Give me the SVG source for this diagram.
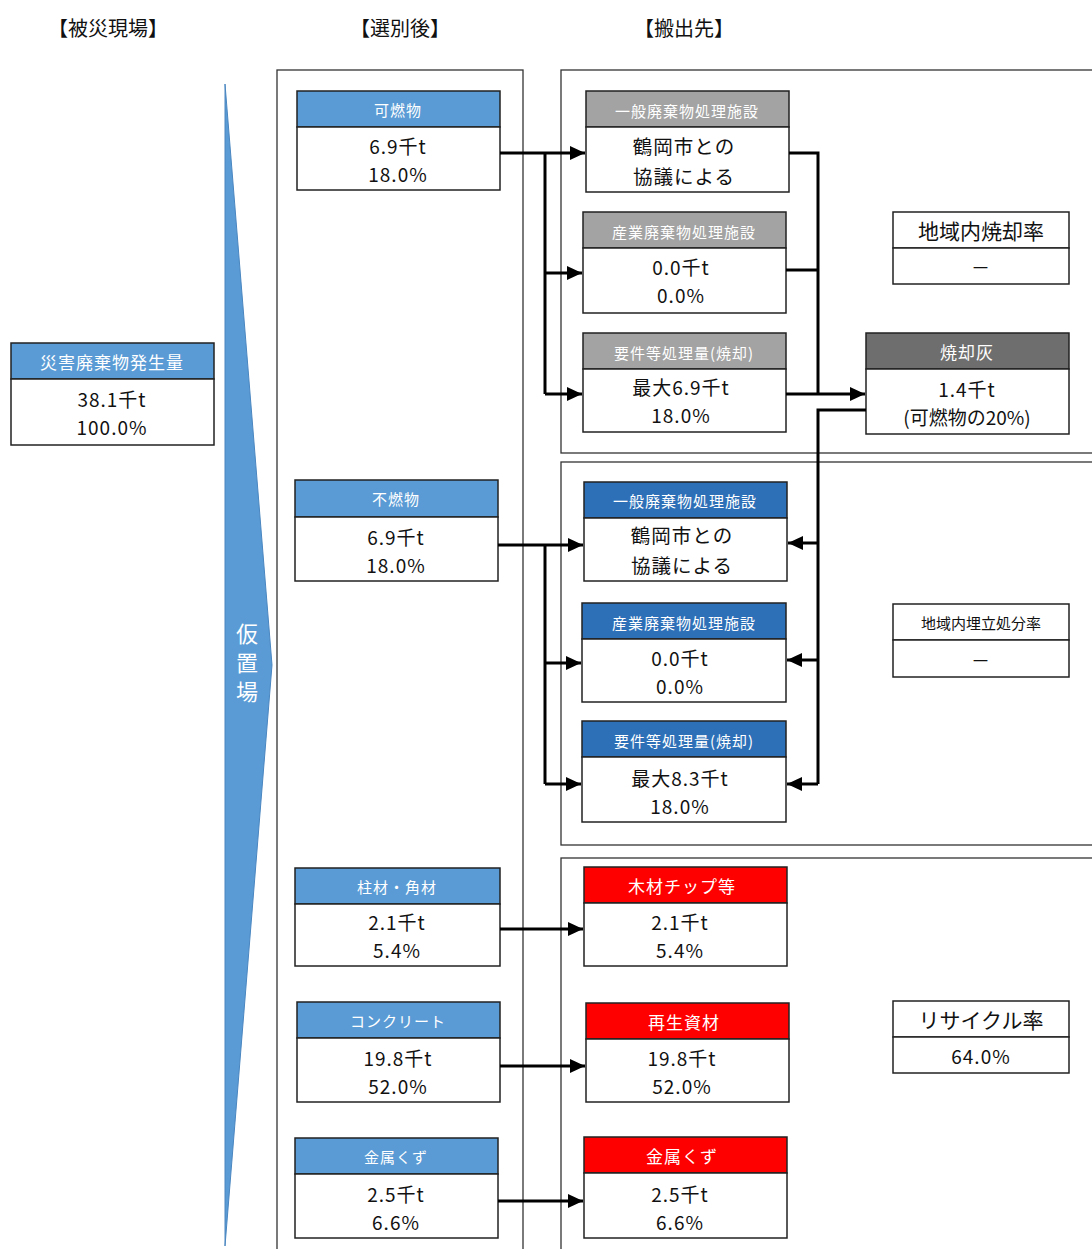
<svg xmlns="http://www.w3.org/2000/svg" width="1092" height="1249" viewBox="0 0 1092 1249">
<style>
text{font-family:"Noto Sans CJK JP","Noto Sans CJK SC",sans-serif;text-anchor:middle;dominant-baseline:central}
.ttl{font-size:20px;fill:#111}
.hd{font-size:15px;fill:#fff;letter-spacing:1px}
.bd{font-size:19px;fill:#111;letter-spacing:1px}
.bd2{font-size:19.5px;fill:#111;letter-spacing:1px}
.box{fill:#fff;stroke:#222;stroke-width:1.5}
.hb{fill:#5a9bd5;stroke:#222;stroke-width:1.5}
.hb2{fill:#2e70b8;stroke:#222;stroke-width:1.5}
.hg{fill:#a3a3a3;stroke:#222;stroke-width:1.5}
.hdg{fill:#6e6e6e;stroke:#222;stroke-width:1.5}
.hr{fill:#ff0000;stroke:#222;stroke-width:1.5}
.frame{fill:none;stroke:#333;stroke-width:1.3}
.c{fill:none;stroke:#000;stroke-width:3}
.ca{fill:none;stroke:#000;stroke-width:3;marker-end:url(#ah)}
</style>
<defs>
<marker id="ah" markerUnits="userSpaceOnUse" markerWidth="16" markerHeight="14" refX="15" refY="7" orient="auto">
<path d="M0,0 L15,7 L0,14 Z" fill="#000"/>
</marker>
</defs>
<rect x="0" y="0" width="1092" height="1249" fill="#fff"/>

<g id="titles">
<text class="ttl" x="108" y="27">【被災現場】</text>
<text class="ttl" x="400" y="27">【選別後】</text>
<text class="ttl" x="684" y="27">【搬出先】</text>
</g>

<g id="frames">
<rect class="frame" x="277" y="70" width="246" height="1190"/>
<rect class="frame" x="561" y="70" width="540" height="383"/>
<rect class="frame" x="561" y="462" width="540" height="383"/>
<rect class="frame" x="561" y="858" width="540" height="400"/>
</g>

<g id="karioki">
<polygon points="225,84 272,665 225,1246" fill="#5a9bd5" stroke="#4a86c0" stroke-width="1"/>
<text x="247" y="632" style="font-size:22px;fill:#fff">仮</text>
<text x="247" y="661" style="font-size:22px;fill:#fff">置</text>
<text x="247" y="690" style="font-size:22px;fill:#fff">場</text>
</g>

<g id="n-hassei">
<rect class="hb" x="11" y="343" width="203" height="36"/>
<rect class="box" x="11" y="379" width="203" height="66"/>
<text class="hd" x="112" y="361" style="font-size:17px">災害廃棄物発生量</text>
<text class="bd" x="112" y="398">38.1千t</text>
<text class="bd" x="112" y="426">100.0%</text>
</g>

<g id="n-kanen">
<rect class="hb" x="297" y="91" width="203" height="36"/>
<rect class="box" x="297" y="127" width="203" height="63"/>
<text class="hd" x="398" y="109">可燃物</text>
<text class="bd" x="398" y="145">6.9千t</text>
<text class="bd" x="398" y="173">18.0%</text>
</g>

<g id="n-funen">
<rect class="hb" x="295" y="480" width="203" height="37"/>
<rect class="box" x="295" y="517" width="203" height="64"/>
<text class="hd" x="396" y="498">不燃物</text>
<text class="bd" x="396" y="536">6.9千t</text>
<text class="bd" x="396" y="564">18.0%</text>
</g>

<g id="n-hashira">
<rect class="hb" x="295" y="868" width="205" height="36"/>
<rect class="box" x="295" y="904" width="205" height="62"/>
<text class="hd" x="397" y="886">柱材・角材</text>
<text class="bd" x="397" y="921">2.1千t</text>
<text class="bd" x="397" y="949">5.4%</text>
</g>

<g id="n-conc">
<rect class="hb" x="297" y="1002" width="203" height="36"/>
<rect class="box" x="297" y="1038" width="203" height="64"/>
<text class="hd" x="398" y="1020">コンクリート</text>
<text class="bd" x="398" y="1057">19.8千t</text>
<text class="bd" x="398" y="1085">52.0%</text>
</g>

<g id="n-kinzoku">
<rect class="hb" x="295" y="1138" width="203" height="36"/>
<rect class="box" x="295" y="1174" width="203" height="64"/>
<text class="hd" x="396" y="1156">金属くず</text>
<text class="bd" x="396" y="1193">2.5千t</text>
<text class="bd" x="396" y="1221">6.6%</text>
</g>

<g id="n-g-ippan">
<rect class="hg" x="586" y="91" width="203" height="36"/>
<rect class="box" x="586" y="127" width="203" height="65"/>
<text class="hd" x="687" y="110">一般廃棄物処理施設</text>
<text class="bd2" x="684" y="145">鶴岡市との</text>
<text class="bd2" x="684" y="175">協議による</text>
</g>

<g id="n-g-sangyo">
<rect class="hg" x="583" y="212" width="203" height="36"/>
<rect class="box" x="583" y="248" width="203" height="65"/>
<text class="hd" x="684" y="231">産業廃棄物処理施設</text>
<text class="bd" x="681" y="266">0.0千t</text>
<text class="bd" x="681" y="294">0.0%</text>
</g>

<g id="n-g-yoken">
<rect class="hg" x="583" y="333" width="203" height="36"/>
<rect class="box" x="583" y="369" width="203" height="63"/>
<text class="hd" x="684" y="352">要件等処理量(焼却)</text>
<text class="bd" x="681" y="386">最大6.9千t</text>
<text class="bd" x="681" y="414">18.0%</text>
</g>

<g id="n-shokyakuritsu">
<rect class="box" x="893" y="212" width="176" height="36"/>
<rect class="box" x="893" y="248" width="176" height="36"/>
<text class="bd2" x="981" y="230" style="font-size:21px;letter-spacing:0">地域内焼却率</text>
<text class="bd" x="981" y="266">－</text>
</g>

<g id="n-shokyakubai">
<rect class="hdg" x="866" y="333" width="203" height="36"/>
<rect class="box" x="866" y="369" width="203" height="65"/>
<text class="hd" x="967" y="351" style="font-size:17px">焼却灰</text>
<text class="bd" x="967" y="388">1.4千t</text>
<text class="bd" x="967" y="416" style="letter-spacing:0">(可燃物の20%)</text>
</g>

<g id="n-b-ippan">
<rect class="hb2" x="584" y="482" width="203" height="36"/>
<rect class="box" x="584" y="518" width="203" height="63"/>
<text class="hd" x="685" y="500">一般廃棄物処理施設</text>
<text class="bd2" x="682" y="534">鶴岡市との</text>
<text class="bd2" x="682" y="564">協議による</text>
</g>

<g id="n-b-sangyo">
<rect class="hb2" x="582" y="603" width="204" height="36"/>
<rect class="box" x="582" y="639" width="204" height="63"/>
<text class="hd" x="684" y="622">産業廃棄物処理施設</text>
<text class="bd" x="680" y="657">0.0千t</text>
<text class="bd" x="680" y="685">0.0%</text>
</g>

<g id="n-b-yoken">
<rect class="hb2" x="582" y="721" width="204" height="36"/>
<rect class="box" x="582" y="757" width="204" height="65"/>
<text class="hd" x="684" y="740">要件等処理量(焼却)</text>
<text class="bd" x="680" y="777">最大8.3千t</text>
<text class="bd" x="680" y="805">18.0%</text>
</g>

<g id="n-umetate">
<rect class="box" x="893" y="604" width="176" height="36"/>
<rect class="box" x="893" y="640" width="176" height="37"/>
<text class="hd" x="981" y="622" style="fill:#111;font-size:15px;letter-spacing:0">地域内埋立処分率</text>
<text class="bd" x="981" y="659">－</text>
</g>

<g id="n-r-chip">
<rect class="hr" x="584" y="867" width="203" height="36"/>
<rect class="box" x="584" y="903" width="203" height="63"/>
<text class="hd" x="682" y="885" style="font-size:17px">木材チップ等</text>
<text class="bd" x="680" y="921">2.1千t</text>
<text class="bd" x="680" y="949">5.4%</text>
</g>

<g id="n-r-saisei">
<rect class="hr" x="586" y="1003" width="203" height="36"/>
<rect class="box" x="586" y="1039" width="203" height="63"/>
<text class="hd" x="684" y="1021" style="font-size:17px">再生資材</text>
<text class="bd" x="682" y="1057">19.8千t</text>
<text class="bd" x="682" y="1085">52.0%</text>
</g>

<g id="n-r-kinzoku">
<rect class="hr" x="584" y="1137" width="203" height="36"/>
<rect class="box" x="584" y="1173" width="203" height="65"/>
<text class="hd" x="682" y="1155" style="font-size:17px">金属くず</text>
<text class="bd" x="680" y="1193">2.5千t</text>
<text class="bd" x="680" y="1221">6.6%</text>
</g>

<g id="n-recycle">
<rect class="box" x="893" y="1001" width="176" height="36"/>
<rect class="box" x="893" y="1037" width="176" height="36"/>
<text class="bd2" x="981" y="1019" style="font-size:21px;letter-spacing:0">リサイクル率</text>
<text class="bd" x="981" y="1055">64.0%</text>
</g>

<g id="connectors">
<path class="ca" d="M500,153 H585"/>
<path class="c" d="M545,153 V394"/>
<path class="ca" d="M545,273 H582"/>
<path class="ca" d="M545,394 H582"/>
<path class="c" d="M789,153 H818 V394"/>
<path class="c" d="M786,270 H818"/>
<path class="ca" d="M786,394 H865"/>
<path class="c" d="M866,410 H818 V784"/>
<path class="ca" d="M818,543 H788"/>
<path class="ca" d="M818,660 H787"/>
<path class="ca" d="M818,784 H787"/>
<path class="ca" d="M498,545 H583"/>
<path class="c" d="M545,545 V784"/>
<path class="ca" d="M545,663 H581"/>
<path class="ca" d="M545,784 H581"/>
<path class="ca" d="M500,929 H583"/>
<path class="ca" d="M500,1066 H585"/>
<path class="ca" d="M498,1201 H583"/>
</g>
</svg>
